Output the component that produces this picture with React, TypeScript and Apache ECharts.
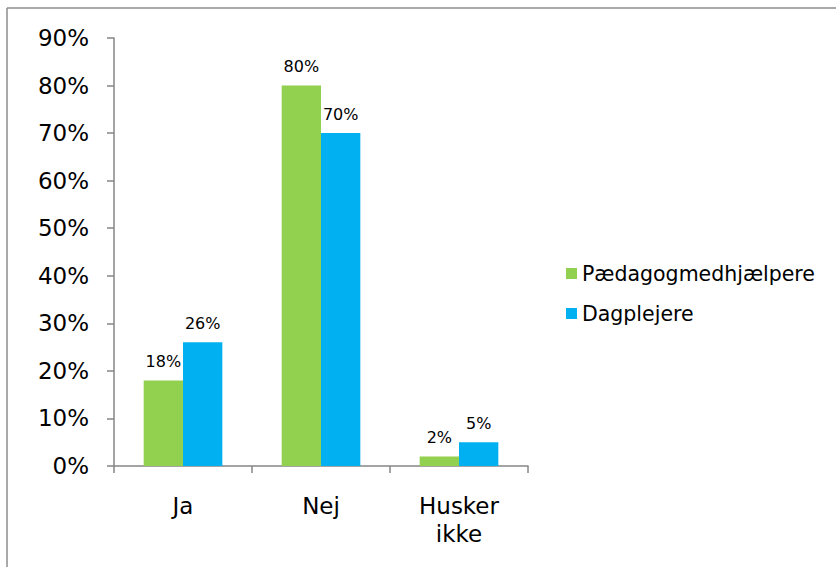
import React, { useEffect, useRef } from "react";
import * as echarts from "echarts";

const categories = ["Ja", "Nej", "Husker\nikke"];
const seriesNames = ["Pædagogmedhjælpere", "Dagplejere"];
const paedagogValues = [18, 80, 2];
const dagplejereValues = [26, 70, 5];
const yMin = 0;
const yMax = 90;
const yInterval = 10;

const FONT = "'DejaVu Sans', Verdana, sans-serif";
const AXIS_COLOR = "#868686";

export default function App() {
  const ref = useRef<HTMLDivElement>(null);
  useEffect(() => {
    if (!ref.current) return;
    const chart = echarts.init(ref.current, null, { renderer: "svg" });
    const labelCfg = {
      show: true,
      position: "top" as const,
      distance: 11,
      formatter: "{c}%",
      color: "#000",
      fontFamily: FONT,
      fontSize: 16,
    };
    chart.setOption({
      animation: false,
      backgroundColor: "#fff",
      textStyle: { fontFamily: FONT },
      grid: { left: 114, right: 308, top: 38, bottom: 101, containLabel: false },
      graphic: [
        {
          type: "line",
          shape: { x1: 7, y1: 8, x2: 836, y2: 8 },
          style: { stroke: "#8c8c8c", lineWidth: 1.5 },
        },
        {
          type: "line",
          shape: { x1: 7, y1: 8, x2: 7, y2: 567 },
          style: { stroke: "#8c8c8c", lineWidth: 1.5 },
        },
      ],
      legend: {
        orient: "vertical",
        left: 566,
        top: 263,
        padding: 0,
        itemWidth: 11,
        itemHeight: 11,
        itemGap: 19,
        icon: "rect",
        data: seriesNames,
        textStyle: { fontFamily: FONT, fontSize: 20.5, color: "#000", lineHeight: 20 },
      },
      xAxis: {
        type: "category",
        data: categories,
        axisLine: { show: true, lineStyle: { color: AXIS_COLOR, width: 1.5 } },
        axisTick: { show: true, length: 7, alignWithLabel: false, lineStyle: { color: AXIS_COLOR, width: 1.5 } },
        axisLabel: { color: "#000", fontFamily: FONT, fontSize: 23, lineHeight: 28, margin: 26 },
        splitLine: { show: false },
      },
      yAxis: {
        type: "value",
        min: yMin,
        max: yMax,
        interval: yInterval,
        axisLine: { show: true, lineStyle: { color: AXIS_COLOR, width: 1.5 } },
        axisTick: { show: true, length: 7, lineStyle: { color: AXIS_COLOR, width: 1.5 } },
        axisLabel: { color: "#000", fontFamily: FONT, fontSize: 23, formatter: "{value}%", margin: 25 },
        splitLine: { show: false },
      },
      series: [
        {
          name: seriesNames[0],
          type: "bar",
          data: paedagogValues,
          itemStyle: { color: "#92D050" },
          barGap: "0%",
          barCategoryGap: "43%",
          label: labelCfg,
        },
        {
          name: seriesNames[1],
          type: "bar",
          data: dagplejereValues,
          itemStyle: { color: "#00B0F0" },
          barGap: "0%",
          barCategoryGap: "43%",
          label: labelCfg,
        },
      ],
    });
    return () => chart.dispose();
  }, []);
  return (
    <div
      ref={ref}
      style={{ position: "absolute", left: 0, top: 0, width: 836, height: 567 }}
    />
  );
}
